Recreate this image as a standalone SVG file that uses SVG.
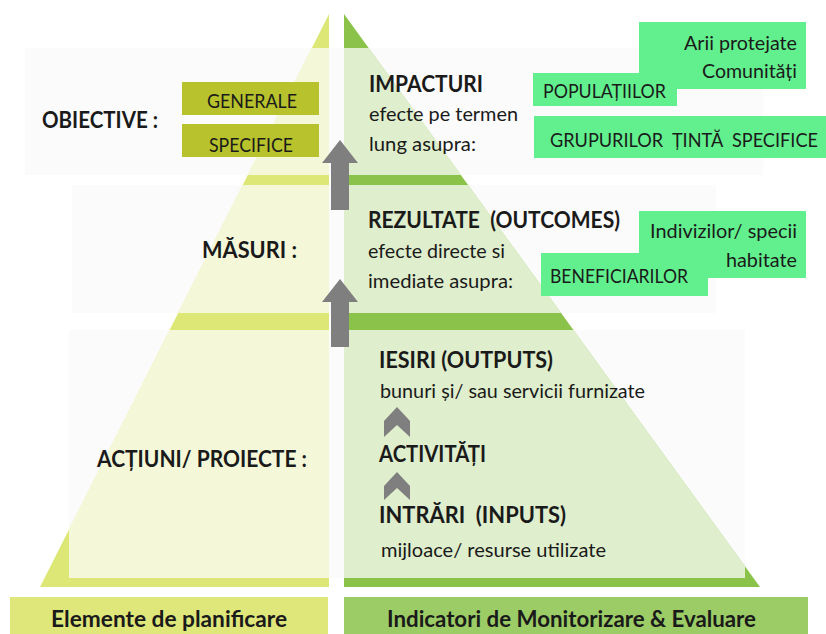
<svg xmlns="http://www.w3.org/2000/svg" width="826" height="634" viewBox="0 0 826 634">
<defs>
<style>
text{font-family:Lato,"Liberation Sans",Arial,sans-serif;fill:#1a1a1a}
.b{font-weight:bold;font-size:23px}
.r{font-size:20px}
.box{font-size:20px}
.band{fill:#fbfbfb}
.veil{fill:#fff;fill-opacity:0.72}
.olive{fill:#b8c22c}
.mint{fill:#62f08e}
.arrow{fill:#7f7f7f}
</style>
<clipPath id="pyr">
<polygon points="329,14 329,587 40,587"/>
<polygon points="344,14 760,587 344,587"/>
</clipPath>
</defs>
<rect width="826" height="634" fill="#fff"/>
<g id="bands-bg">
<rect class="band" x="25" y="48" width="738" height="127"/>
<rect class="band" x="72" y="185" width="644" height="128"/>
<rect class="band" x="69" y="330" width="676" height="248"/>
</g>
<g id="pyramid">
<polygon points="329,14 329,587 40,587" fill="#dce775"/>
<polygon points="344,14 760,587 344,587" fill="#8bc34a"/>
<g clip-path="url(#pyr)">
<rect class="veil" x="25" y="48" width="738" height="127"/>
<rect class="veil" x="72" y="185" width="644" height="128"/>
<rect class="veil" x="69" y="330" width="676" height="248"/>
</g>
</g>
<g id="connectors">
<polygon class="arrow" points="340,140 358,163 349,163 349,210 331,210 331,163 322,163"/>
<polygon class="arrow" points="340,279 358,302 349,302 349,347 331,347 331,302 322,302"/>
<polygon class="arrow" points="397,407 410,421 410,437 397,425 384,437 384,421"/>
<polygon class="arrow" points="397,472 410,486 410,500 397,488 384,500 384,486"/>
</g>
<g id="obiective">
<text class="b" x="42" y="128" textLength="116" lengthAdjust="spacingAndGlyphs">OBIECTIVE :</text>
</g>
<g id="generale">
<rect class="olive" x="182" y="82" width="137" height="33"/>
<text class="box" x="207" y="108" textLength="90" lengthAdjust="spacingAndGlyphs">GENERALE</text>
</g>
<g id="specifice">
<rect class="olive" x="182" y="124" width="137" height="33"/>
<text class="box" x="209" y="152" textLength="84" lengthAdjust="spacingAndGlyphs">SPECIFICE</text>
</g>
<g id="masuri">
<text class="b" x="202" y="258" textLength="95" lengthAdjust="spacingAndGlyphs">MĂSURI :</text>
</g>
<g id="actiuni">
<text class="b" x="97" y="467" textLength="210" lengthAdjust="spacingAndGlyphs">ACȚIUNI/ PROIECTE :</text>
</g>
<g id="impacturi">
<text class="b" x="369" y="92" textLength="114" lengthAdjust="spacingAndGlyphs">IMPACTURI</text>
<text class="r" x="369" y="121" textLength="149" lengthAdjust="spacingAndGlyphs">efecte pe termen</text>
<text class="r" x="369" y="151" textLength="107" lengthAdjust="spacingAndGlyphs">lung asupra:</text>
</g>
<g id="arii">
<rect class="mint" x="639" y="22" width="167" height="67"/>
<text class="r" x="684" y="50" textLength="113" lengthAdjust="spacingAndGlyphs">Arii protejate</text>
<text class="r" x="702" y="78" textLength="95" lengthAdjust="spacingAndGlyphs">Comunități</text>
</g>
<g id="populatiilor">
<rect class="mint" x="533" y="73" width="144" height="33"/>
<text class="r" x="543" y="98" textLength="123" lengthAdjust="spacingAndGlyphs">POPULAȚIILOR</text>
</g>
<g id="grupurilor">
<rect class="mint" x="534" y="116" width="292" height="42"/>
<text class="r" x="550" y="147" textLength="268" lengthAdjust="spacingAndGlyphs" xml:space="preserve">GRUPURILOR  ȚINTĂ  SPECIFICE</text>
</g>
<g id="rezultate">
<text class="b" x="368" y="228" textLength="252" lengthAdjust="spacingAndGlyphs" xml:space="preserve">REZULTATE  (OUTCOMES)</text>
<text class="r" x="368" y="258" textLength="137" lengthAdjust="spacingAndGlyphs">efecte directe si</text>
<text class="r" x="368" y="288" textLength="145" lengthAdjust="spacingAndGlyphs">imediate asupra:</text>
</g>
<g id="indivizilor">
<rect class="mint" x="639" y="211" width="167" height="67"/>
<text class="r" x="650" y="238" textLength="147" lengthAdjust="spacingAndGlyphs">Indivizilor/ specii</text>
<text class="r" x="726" y="267" textLength="71" lengthAdjust="spacingAndGlyphs">habitate</text>
</g>
<g id="beneficiarilor">
<rect class="mint" x="541" y="253" width="167" height="43"/>
<text class="r" x="550" y="283" textLength="138" lengthAdjust="spacingAndGlyphs">BENEFICIARILOR</text>
</g>
<g id="iesiri">
<text class="b" x="379" y="368" textLength="174" lengthAdjust="spacingAndGlyphs">IESIRI (OUTPUTS)</text>
<text class="r" x="380" y="398" textLength="265" lengthAdjust="spacingAndGlyphs">bunuri și/ sau servicii furnizate</text>
</g>
<g id="activitati">
<text class="b" x="379" y="462" textLength="107" lengthAdjust="spacingAndGlyphs">ACTIVITĂȚI</text>
</g>
<g id="intrari">
<text class="b" x="379" y="523" textLength="187" lengthAdjust="spacingAndGlyphs" xml:space="preserve">INTRĂRI  (INPUTS)</text>
<text class="r" x="381" y="557" textLength="225" lengthAdjust="spacingAndGlyphs">mijloace/ resurse utilizate</text>
</g>
<g id="elemente">
<rect x="10" y="597" width="318" height="37" fill="#dfe77a"/>
<text class="b" x="51" y="627" textLength="236" lengthAdjust="spacingAndGlyphs">Elemente de planificare</text>
</g>
<g id="indicatori">
<rect x="344" y="597" width="464" height="37" fill="#9ccc65"/>
<text class="b" x="387" y="627" textLength="369" lengthAdjust="spacingAndGlyphs">Indicatori de Monitorizare &amp; Evaluare</text>
</g>
</svg>
